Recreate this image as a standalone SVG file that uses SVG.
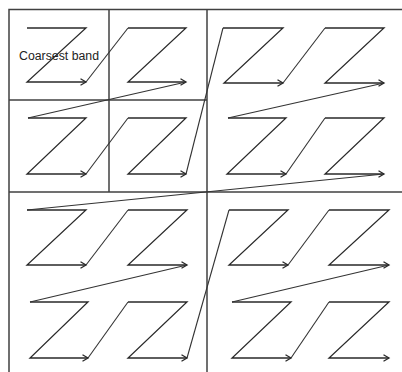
<svg xmlns="http://www.w3.org/2000/svg" width="402" height="372" viewBox="0 0 402 372">
<style>
.grid{stroke:#404040;stroke-width:1.5;fill:none}
.z{stroke:#2a2a2a;stroke-width:1.3;fill:none;stroke-linejoin:miter;marker-end:url(#arr)}
.c{stroke:#333;stroke-width:1.1;fill:none}
.lbl{font-family:"Liberation Sans",Arial,sans-serif;font-size:12px;fill:#222}
</style>
<defs>
<marker id="arr" markerUnits="userSpaceOnUse" markerWidth="10" markerHeight="10" refX="7" refY="4" orient="auto">
<path d="M1.5,0.8 L7,4 L1.5,7.2" fill="none" stroke="#2a2a2a" stroke-width="1.3"/>
</marker>
</defs>
<rect width="402" height="372" fill="#fff"/>
<g id="grid" class="grid">
<path d="M9,372 V9.5 H402"/>
<path d="M9,192 H402"/>
<path d="M207,9 V372"/>
<path d="M109,9 V192"/>
<path d="M9,100 H207"/>
</g>
<g id="label"><text class="lbl" x="19" y="60" textLength="80" lengthAdjust="spacingAndGlyphs">Coarsest band</text></g>
<g id="top-left">
<path class="z" d="M27,28 H86 L27,82 H86"/>
<path class="z" d="M128,28 H186 L128,82 H186"/>
<path class="z" d="M28,118 H86 L27,174 H86"/>
<path class="z" d="M128,118 H186 L128,174 H186"/>
</g>
<g id="top-right">
<path class="z" d="M223,28 H283 L224,83 H283"/>
<path class="z" d="M325,28 H384 L325,83 H384"/>
<path class="z" d="M228,118 H286 L227,174 H286"/>
<path class="z" d="M325,118 H384 L325,174 H384"/>
</g>
<g id="bottom-left">
<path class="z" d="M27,210 H86 L27,265 H86"/>
<path class="z" d="M128,210 H187 L128,265 H187"/>
<path class="z" d="M30,302 H88 L30,358 H88"/>
<path class="z" d="M128,302 H187 L128,358 H187"/>
</g>
<g id="bottom-right">
<path class="z" d="M229,210 H288 L229,265 H288"/>
<path class="z" d="M329,210 H389 L329,265 H389"/>
<path class="z" d="M232,302 H291 L232,358 H291"/>
<path class="z" d="M329,302 H389 L329,358 H389"/>
</g>
<g id="connectors" class="c">
<path d="M86,82 L128,28"/>
<path d="M186,82 L28,118"/>
<path d="M86,174 L128,118"/>
<path d="M186,174 L223,28"/>
<path d="M283,83 L325,28"/>
<path d="M384,83 L228,118"/>
<path d="M286,174 L325,118"/>
<path d="M384,174 L27,210"/>
<path d="M86,265 L128,210"/>
<path d="M187,265 L30,302"/>
<path d="M88,358 L128,302"/>
<path d="M187,358 L229,210"/>
<path d="M288,265 L329,210"/>
<path d="M389,265 L232,302"/>
<path d="M291,358 L329,302"/>
</g>
</svg>
